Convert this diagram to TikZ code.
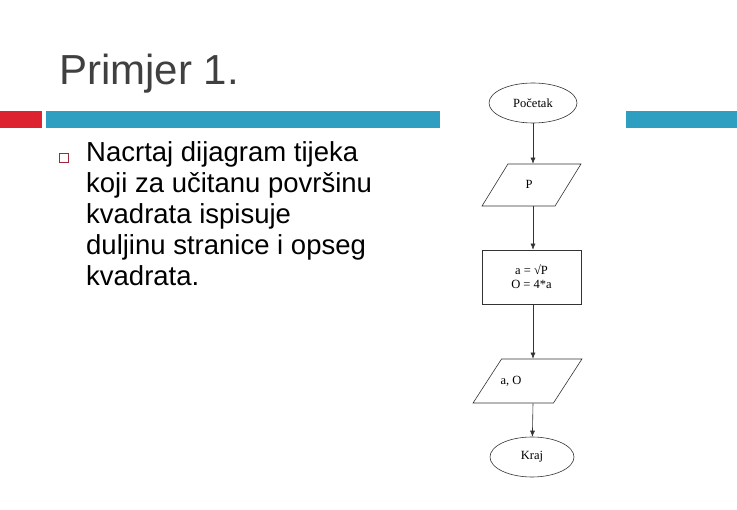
\documentclass[tikz,border=0pt]{standalone}
\usepackage{fontspec}
\setmainfont{Liberation Sans}
\newfontfamily\serifx{Liberation Serif}
\usetikzlibrary{shapes.geometric,arrows.meta}
\definecolor{barblue}{HTML}{2E9FC0}
\definecolor{barred}{HTML}{DD2230}
\definecolor{bul}{HTML}{A0283C}
\tikzset{
  fc/.style={draw=black!80,line width=0.6pt,font=\serifx\fontsize{12.5}{14}\selectfont,align=center},
  term/.style={fc,ellipse,minimum width=88pt,minimum height=40pt,inner sep=0pt},
  io/.style={fc,trapezium,trapezium left angle=65,trapezium right angle=115,minimum width=99pt,minimum height=42pt,inner sep=0pt,trapezium stretches=true},
  proc/.style={fc,rectangle,minimum width=99pt,minimum height=54pt},
  arr/.style={draw=black!80,line width=0.6pt,-{Latex[length=6pt,width=5pt]}}
}
\begin{document}
\begin{tikzpicture}[x=1pt,y=-1pt]
\useasboundingbox (0,0) rectangle (737,510);
\fill[white] (0,0) rectangle (737,510);
\fill[barred] (0,111) rectangle (42,128);
\fill[barblue] (46,111) rectangle (440,128);
\fill[barblue] (626,111) rectangle (737,128);
\node[anchor=base west,inner sep=0pt,text=black!75,font=\fontsize{42}{46}\selectfont] (title) at (59,85) {Primjer 1.};
\node[draw=bul,line width=0.8pt,minimum size=9pt,inner sep=0pt] (bullet) at (64,158) {};
\node[anchor=north west,inner sep=0pt,align=left,font=\fontsize{27.5}{31}\selectfont] (txt) at (86,141)
 {Nacrtaj dijagram tijeka\\koji za učitanu površinu\\kvadrata ispisuje\\duljinu stranice i opseg\\kvadrata.};
\node[term] (start) at (533,103) {Početak};
\node[io,minimum width=99pt] (in) at (531.5,185) {\phantom{P}};
\node[fc,draw=none] (inl) at (529,184) {P};
\node[proc] (calc) at (531.5,277) {a = √P\\O = 4*a};
\node[io,minimum width=109pt,minimum height=44pt] (out) at (527.5,381) {\phantom{P}};
\node[fc,draw=none] (outl) at (511,381) {a, O};
\node[term,minimum width=84pt] (end) at (532,457) {Kraj};
\draw[arr] (start) -- (in.north -| start);
\draw[arr] (in.south -| start) -- (calc.north -| start);
\draw[arr] (calc.south -| start) -- (out.north -| start);
\draw[arr] (out.south -| start) -- (end);
\end{tikzpicture}
\end{document}
